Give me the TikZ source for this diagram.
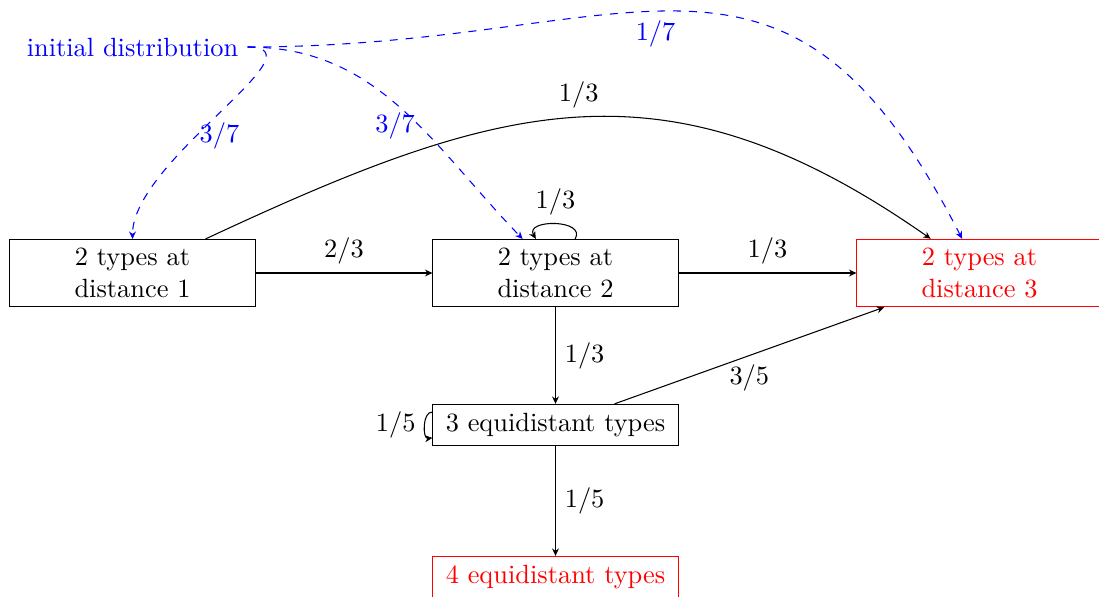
\documentclass[tikz,border=0pt]{standalone}
\usetikzlibrary{arrows.meta}
\begin{document}
\begin{tikzpicture}[x=0.379pt,y=0.379pt,
  >={Stealth[length=2.8pt,width=2.6pt,inset=0.9pt]},
  box/.style={draw, rectangle, minimum width=92.9pt, align=center, inner sep=3.33pt},
  redbox/.style={box, draw=red, text=red},
  blueedge/.style={->, dashed, blue},
  edgeline/.style={->}]
\useasboundingbox (0,0) rectangle (1099,-596);
\node[text=blue] (init) at (132.5,-47) {initial distribution};
\node[box] (n1) at (132.5,-273) {2 types at\\distance 1};
\node[box] (n2) at (555.5,-273) {2 types at\\distance 2};
\node[redbox] (n3) at (979.5,-273) {2 types at\\distance 3};
\node[box] (n5) at (555.5,-425) {3 equidistant types};
\node[redbox] (n4) at (555.5,-577) {4 equidistant types};

\draw[blueedge] (init) to[out=0,in=90,looseness=0.9] node[below,pos=0.5] {3/7} (n1);
\draw[blueedge] (init) to[out=0,in=134] node[below,pos=0.48] {3/7} (n2);
\draw[blueedge] (init) to[out=0,in=117,looseness=1.36] node[below,pos=0.455] {1/7} (n3);

\draw[edgeline] (n1) -- node[above] {2/3} (n2);
\draw[edgeline] (n2) -- node[above] {1/3} (n3);
\draw[edgeline] (n2) -- node[right] {1/3} (n5);
\draw[edgeline] (n5) -- node[right] {1/5} (n4);
\draw[edgeline] (n5) -- node[below] {3/5} (n3);
\draw[edgeline] (n1) to[out=25,in=145,looseness=1.15] node[above] {1/3} (n3);
\draw[edgeline] (n2) to[out=60,in=120,looseness=1.5] node[above] {1/3} (n2);
\draw[edgeline] (n5) to[out=174,in=186] node[left] {1/5} (n5);
\end{tikzpicture}
\end{document}
